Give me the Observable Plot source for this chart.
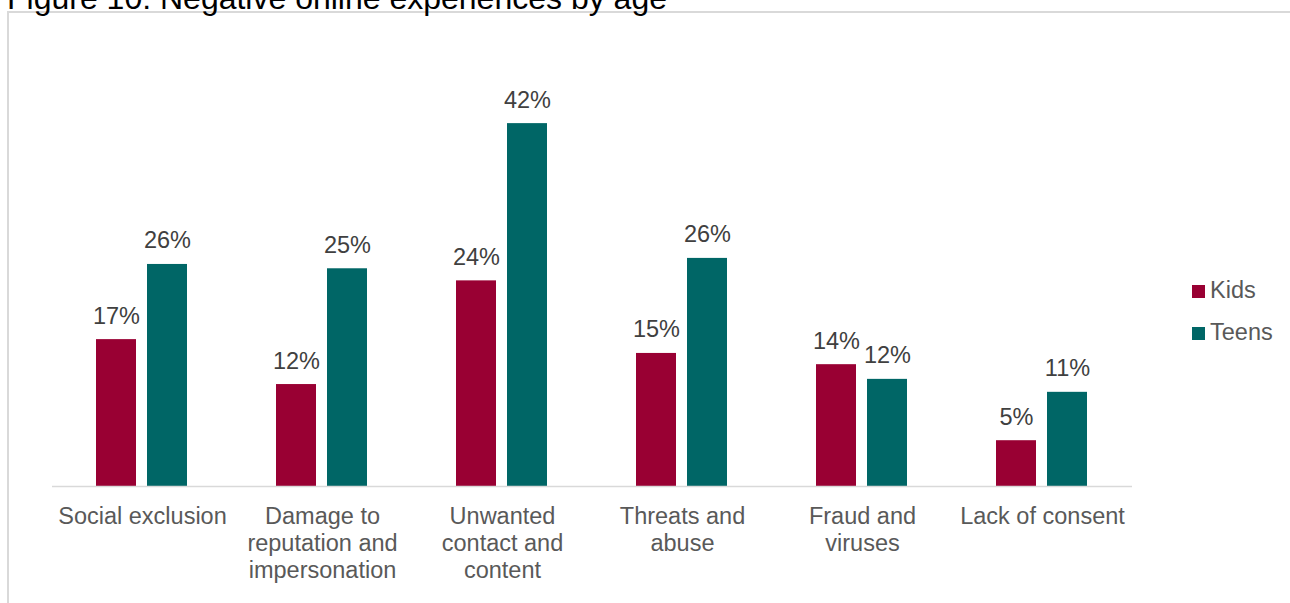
<!DOCTYPE html>
<html>
<head>
<meta charset="utf-8">
<script src="https://cdn.jsdelivr.net/npm/d3@7"></script>
<script src="https://cdn.jsdelivr.net/npm/@observablehq/plot@0.6"></script>
<style>
  html, body { margin: 0; padding: 0; background: #fff; overflow: hidden; width: 1290px; height: 603px; }
  body { position: relative; font-family: "Liberation Sans", Arial, sans-serif; }
  #title { position: absolute; left: 7px; top: -18px; font-size: 32px; line-height: 32px; color: #000; white-space: nowrap; }
  #frame { position: absolute; left: 7px; top: 11px; width: 1400px; height: 700px; border-left: 2px solid #d9d9d9; border-top: 2px solid #d9d9d9; }
  #chart { position: absolute; left: 0; top: 0; }
  #legend { position: absolute; left: 1192px; top: 276px; font-size: 23.5px; color: #595959; }
  .item { position: relative; height: 42px; }
  .sw { position: absolute; left: 0; top: 9px; width: 13px; height: 13px; }
  .lab { position: absolute; left: 18px; top: 1px; line-height: 27px; white-space: nowrap; }
</style>
</head>
<body>
<div id="frame"></div>
<div id="title">Figure 10: Negative online experiences by age</div>
<div id="chart"></div>
<div id="legend"></div>
<script>
const categories = ["Social exclusion", "Damage to reputation and impersonation", "Unwanted contact and content", "Threats and abuse", "Fraud and viruses", "Lack of consent"];
const tickLabels = ["Social exclusion", "Damage to\nreputation and\nimpersonation", "Unwanted\ncontact and\ncontent", "Threats and\nabuse", "Fraud and\nviruses", "Lack of consent"];
const series = ["Kids", "Teens"];
const kids = [17.0, 11.8, 23.8, 15.4, 14.1, 5.3];
const teens = [25.7, 25.2, 42.0, 26.4, 12.4, 10.9];
const colors = ["#990033", "#006666"];

const data = categories.flatMap((c, i) => [
  {category: c, group: series[0], value: kids[i]},
  {category: c, group: series[1], value: teens[i]}
]);

const chart = Plot.plot({
  width: 1290,
  height: 603,
  marginLeft: 52,
  marginRight: 158,
  marginTop: 54,
  marginBottom: 117,
  style: {fontFamily: "'Liberation Sans', Arial, sans-serif", background: "transparent", overflow: "visible"},
  fx: {domain: categories, padding: 0, axis: null, label: null},
  x: {domain: series, paddingInner: 0.214, paddingOuter: 0.854, axis: null},
  y: {domain: [0, 50], axis: null},
  color: {domain: series, range: colors},
  marks: [
    Plot.barY(data, {fx: "category", x: "group", y: "value", fill: "group"}),
    Plot.ruleY([0], {stroke: "#d9d9d9", strokeWidth: 1.4}),
    Plot.text(data, {
      fx: "category", x: "group", y: "value",
      text: d => Math.round(d.value) + "%",
      dy: -16, lineAnchor: "bottom", fontSize: 23.5, fill: "#404040"
    }),
    Plot.text(categories, {
      fx: d => d,
      text: d => tickLabels[categories.indexOf(d)],
      frameAnchor: "bottom", lineAnchor: "top", dy: 18,
      fontSize: 23.5, lineHeight: 1.149, fill: "#595959"
    })
  ]
});
document.getElementById("chart").appendChild(chart);

const legend = document.getElementById("legend");
series.forEach((s, i) => {
  const item = document.createElement("div");
  item.className = "item";
  item.innerHTML = `<div class="sw" style="background:${colors[i]}"></div><div class="lab">${s}</div>`;
  legend.appendChild(item);
});
</script>
</body>
</html>
